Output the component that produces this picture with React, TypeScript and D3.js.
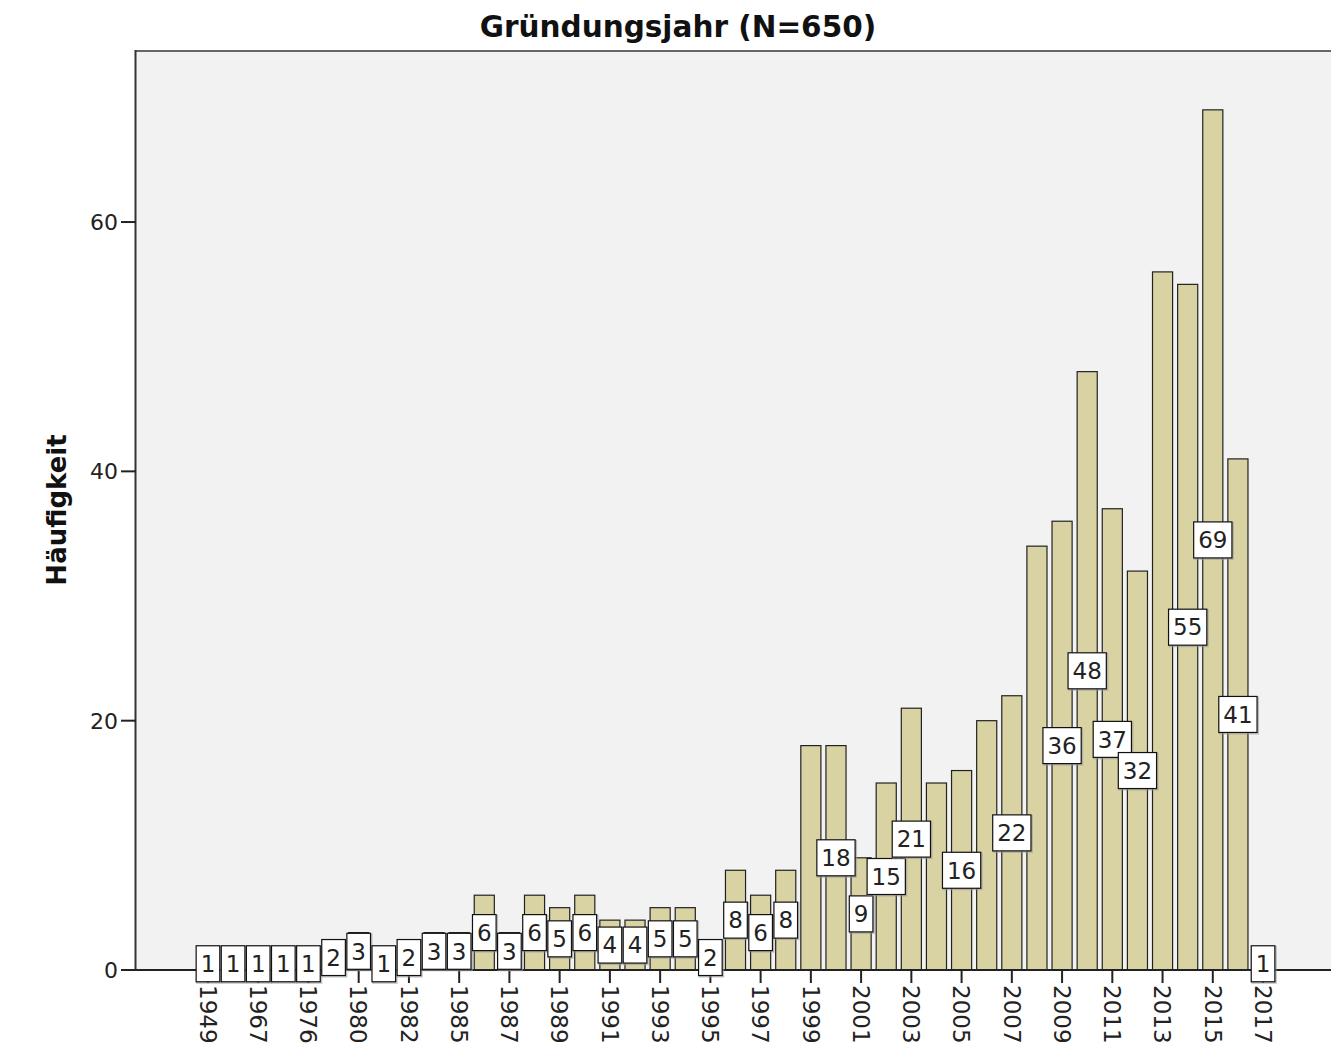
import React from "react";
import * as d3 from "d3";

const years = [
  "1949", "1958", "1967", "1972", "1976", "1978", "1980", "1981", "1982", "1984",
  "1985", "1986", "1987", "1988", "1989", "1990", "1991", "1992", "1993", "1994",
  "1995", "1996", "1997", "1998", "1999", "2000", "2001", "2002", "2003", "2004",
  "2005", "2006", "2007", "2008", "2009", "2010", "2011", "2012", "2013", "2014",
  "2015", "2016", "2017",
];
const counts = [
  1, 1, 1, 1, 1, 2, 3, 1, 2, 3,
  3, 6, 3, 6, 5, 6, 4, 4, 5, 5,
  2, 8, 6, 8, 18, 18, 9, 15, 21, 15,
  16, 20, 22, 34, 36, 48, 37, 32, 56, 55,
  69, 41, 1,
];
const hiddenLabels = ["1999", "2004", "2006", "2008", "2013"];
const yTicks = [0, 20, 40, 60];
const title = "Gründungsjahr (N=650)";
const yTitle = "Häufigkeit";

const W = 1331;
const H = 1052;
const plotLeft = 136;
const plotTop = 51;
const plotBottom = 970;
const font = "'DejaVu Sans', Verdana, sans-serif";

export default function App() {
  const x = d3
    .scaleBand<string>()
    .domain(years)
    .range([195.4, 1275.6])
    .paddingInner(0.2)
    .paddingOuter(0.1);
  const y = d3.scaleLinear().domain([0, 73.72]).range([plotBottom, plotTop]);
  const bw = x.bandwidth();
  const data = years.map((yr, i) => ({ yr, v: counts[i], i }));

  return (
    <svg
      width={W}
      height={H}
      style={{ position: "absolute", left: 0, top: 0, background: "#fff" }}
      fontFamily={font}
    >
      <rect x={plotLeft} y={plotTop} width={W - plotLeft} height={plotBottom - plotTop} fill="#F2F2F2" />
      <line x1={plotLeft} x2={W} y1={plotTop} y2={plotTop} stroke="#666" strokeWidth={2} />
      <line x1={plotLeft - 0.5} x2={plotLeft - 0.5} y1={plotTop - 1} y2={plotBottom} stroke="#333" strokeWidth={2} />

      {/* bars */}
      {data.map((d) => (
        <rect
          key={"b" + d.yr}
          x={x(d.yr)!}
          y={y(d.v)}
          width={bw}
          height={plotBottom - y(d.v)}
          fill="#D9D3A3"
          stroke="#222"
          strokeWidth={1.2}
        />
      ))}

      {/* x axis */}
      <line x1={plotLeft - 1} x2={W} y1={plotBottom} y2={plotBottom} stroke="#222" strokeWidth={2} />
      {data.map((d) =>
        d.i % 2 === 0 ? (
          <g key={"t" + d.yr} transform={`translate(${x(d.yr)! + bw / 2},${plotBottom})`}>
            <line y1={0} y2={13} stroke="#222" strokeWidth={2} />
            <text
              transform="translate(0,15) rotate(90)"
              dy="0.36em"
              fontSize={23}
              fill="#222"
              textAnchor="start"
            >
              {d.yr}
            </text>
          </g>
        ) : null
      )}

      {/* y axis */}
      {yTicks.map((t) => (
        <g key={"y" + t} transform={`translate(0,${y(t)})`}>
          <line x1={121} x2={plotLeft} stroke="#222" strokeWidth={2} />
          <text x={118} dy="0.36em" fontSize={22} textAnchor="end" fill="#222">
            {t}
          </text>
        </g>
      ))}

      {/* value labels */}
      {data
        .filter((d) => !hiddenLabels.includes(d.yr))
        .map((d) => {
          const label = String(d.v);
          const tw = label.length * 0.636 * 23;
          const bwBox = tw + 9;
          const bh = 36;
          const cx = x(d.yr)! + bw / 2;
          const cy = y(d.v / 2);
          return (
            <g key={"l" + d.yr}>
              <rect
                x={cx - bwBox / 2 + 1}
                y={cy - bh / 2 + 1}
                width={bwBox}
                height={bh}
                fill="none"
                stroke="#999"
                strokeWidth={2}
                opacity={0.6}
              />
              <rect
                x={cx - bwBox / 2}
                y={cy - bh / 2}
                width={bwBox}
                height={bh}
                fill="#fff"
                stroke="#111"
                strokeWidth={1.2}
              />
              <text x={cx} y={cy} dy="0.36em" fontSize={23} textAnchor="middle" fill="#222">
                {label}
              </text>
            </g>
          );
        })}

      {/* titles */}
      <text x={678} y={37} fontSize={29.5} fontWeight="bold" textAnchor="middle" fill="#111">
        {title}
      </text>
      <text
        transform={`translate(66,510) rotate(-90)`}
        fontSize={26}
        fontWeight="bold"
        textAnchor="middle"
        fill="#111"
      >
        {yTitle}
      </text>
    </svg>
  );
}
